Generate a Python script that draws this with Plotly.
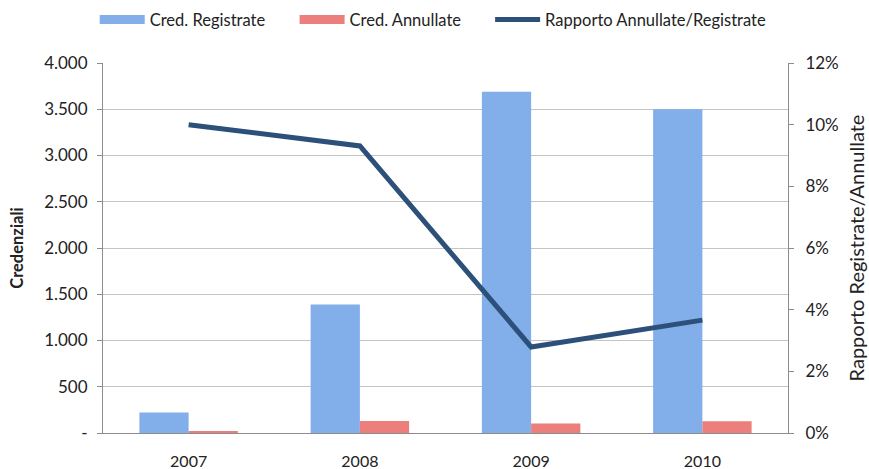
import plotly.graph_objects as go

years = ['2007', '2008', '2009', '2010']
cred_registrate = [222, 1390, 3690, 3500]
cred_annullate = [22, 129, 103, 128]
rapporto = [0.100, 0.0931, 0.0279, 0.0366]

left_tickvals = [0, 500, 1000, 1500, 2000, 2500, 3000, 3500, 4000]
left_ticktext = ['-', '500', '1.000', '1.500', '2.000', '2.500', '3.000', '3.500', '4.000']
right_tickvals = [0, 0.02, 0.04, 0.06, 0.08, 0.10, 0.12]
right_ticktext = ['0%', '2%', '4%', '6%', '8%', '10%', '12%']

blue = '#82AEE9'
red = '#EC7E7C'
navy = '#2C5079'
font = 'Lato, Calibri, Arial, sans-serif'

fig = go.Figure()

fig.add_trace(go.Bar(x=years, y=cred_registrate, name='Cred. Registrate',
                     marker=dict(color=blue, line_width=0), showlegend=False))
fig.add_trace(go.Bar(x=years, y=cred_annullate, name='Cred. Annullate',
                     marker=dict(color=red, line_width=0), showlegend=False))
fig.add_trace(go.Scatter(x=years, y=rapporto, yaxis='y2', mode='lines',
                         name='Rapporto Annullate/Registrate',
                         line=dict(color=navy, width=5), showlegend=False))

# legend-only entries with wide swatches, each in its own legend box
legend_items = [('Cred. Registrate', blue, 9, 'legend'),
                ('Cred. Annullate', red, 9, 'legend2'),
                ('Rapporto Annullate/Registrate', navy, 5, 'legend3')]
for name, color, w, lg in legend_items:
    fig.add_trace(go.Scatter(x=[None], y=[None], mode='lines', name=name,
                             line=dict(color=color, width=w), yaxis='y2', legend=lg))


def legend_box(x):
    return dict(orientation='h', xref='container', x=x, xanchor='left',
                yref='container', y=0.995, yanchor='top', font=dict(size=16.5),
                itemwidth=45, bgcolor='rgba(0,0,0,0)')


fig.update_layout(
    width=869,
    height=469,
    plot_bgcolor='white',
    paper_bgcolor='white',
    font=dict(family=font, size=17, color='#222222'),
    barmode='group',
    bargap=0.425,
    bargroupgap=0,
    margin=dict(l=103, r=81, t=63, b=36, autoexpand=False),
    legend=legend_box(0.109),
    legend2=legend_box(0.339),
    legend3=legend_box(0.564),
    xaxis=dict(showline=True, linecolor='#8C8C8C', linewidth=1, ticks='outside',
               ticklen=14, tickcolor='rgba(0,0,0,0)', tickfont=dict(size=16),
               showgrid=False, automargin=False),
    yaxis=dict(title=dict(text='<b>Credenziali</b>', font=dict(size=16.5), standoff=16),
               range=[0, 4000], tickvals=left_tickvals, ticktext=left_ticktext,
               showline=True, linecolor='#8C8C8C', linewidth=1, ticks='outside',
               ticklen=5, tickcolor='#8C8C8C', showgrid=True, gridcolor='#C4C4C4',
               gridwidth=1, zeroline=False, tickfont=dict(size=17),
               ticklabelstandoff=6, automargin=False),
    yaxis2=dict(title=dict(text='Rapporto Registrate/Annullate', font=dict(size=20), standoff=12),
                overlaying='y', side='right', range=[0, 0.12], tickvals=right_tickvals,
                ticktext=right_ticktext, showline=True, linecolor='#8C8C8C', linewidth=1,
                ticks='outside', ticklen=5, tickcolor='#8C8C8C', showgrid=False,
                zeroline=False, tickfont=dict(size=17), ticklabelstandoff=8,
                automargin=False),
)

fig.write_html('out.html', config={'displayModeBar': False},
               post_script="document.body.style.margin='0';")
